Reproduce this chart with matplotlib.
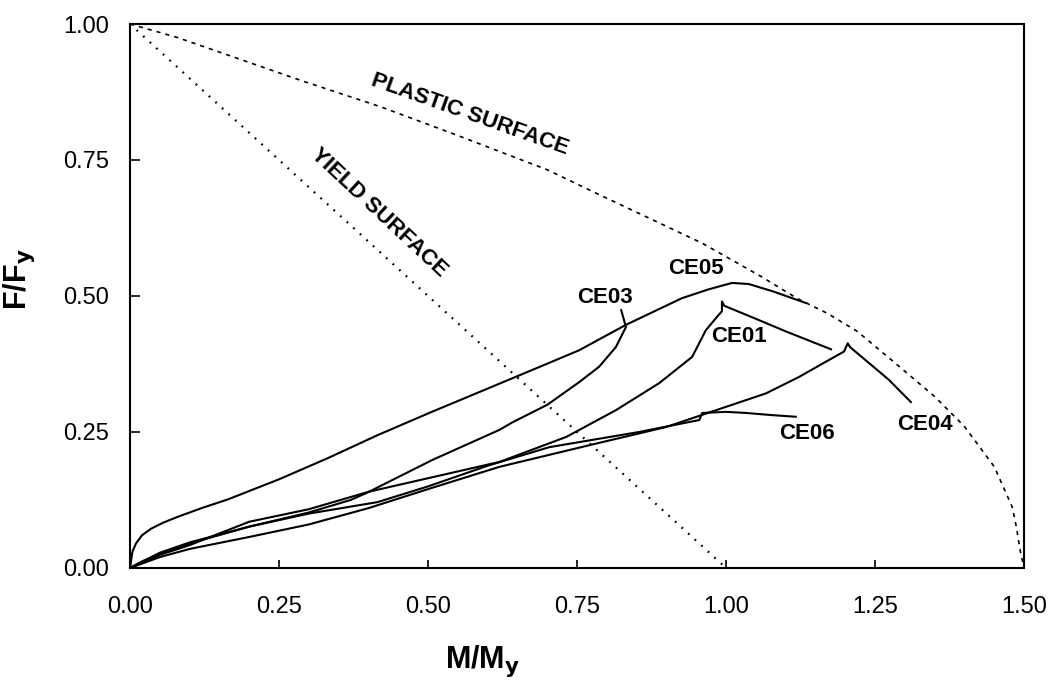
"""
Interaction diagram: F/Fy against M/My for the CE tests.
"""

import matplotlib
matplotlib.use("Agg")
from matplotlib import pyplot as plt

plt.rcParams["font.family"] = ["Liberation Sans", "DejaVu Sans"]

# yield and plastic surfaces
yield_m = [0.0, 1.0]
yield_f = [1.0, 0.0]

plastic_m = [0.0, 0.08, 0.29, 0.42, 0.55, 0.70, 0.78, 0.96, 1.06, 1.12, 1.17,
             1.22, 1.28, 1.35, 1.40, 1.45, 1.48, 1.487, 1.494, 1.50]
plastic_f = [1.0, 0.975, 0.895, 0.848, 0.795, 0.732, 0.69, 0.597, 0.535, 0.495, 0.468,
             0.435, 0.380, 0.315, 0.26, 0.186, 0.112, 0.075, 0.028, 0.0]

# test curves
ce05_m = [0.0, 0.004, 0.01, 0.02, 0.035, 0.055, 0.08, 0.12, 0.164, 0.25, 0.332,
          0.415, 0.502, 0.642, 0.703, 0.753, 0.832, 0.926, 0.97, 1.01, 1.038,
          1.08, 1.134]
ce05_f = [0.0, 0.03, 0.045, 0.06, 0.072, 0.083, 0.094, 0.11, 0.126, 0.163, 0.202,
          0.244, 0.285, 0.349, 0.377, 0.40, 0.447, 0.496, 0.512, 0.524, 0.522,
          0.508, 0.487]

ce03_m = [0.0, 0.02, 0.05, 0.1, 0.2, 0.3, 0.37, 0.397, 0.508, 0.62, 0.642,
          0.70, 0.754, 0.787, 0.815, 0.832, 0.824]
ce03_f = [0.0, 0.012, 0.026, 0.045, 0.076, 0.102, 0.125, 0.138, 0.199, 0.254, 0.268,
          0.30, 0.342, 0.37, 0.406, 0.443, 0.474]

ce01_m = [0.0, 0.05, 0.1, 0.2, 0.3, 0.4, 0.5, 0.62, 0.732, 0.815, 0.888,
          0.943, 0.966, 0.985, 0.993, 0.993, 0.997, 1.05, 1.10, 1.176]
ce01_f = [0.0, 0.024, 0.042, 0.085, 0.108, 0.14, 0.165, 0.195, 0.241, 0.29, 0.34,
          0.388, 0.437, 0.462, 0.472, 0.49, 0.482, 0.458, 0.435, 0.402]

ce04_m = [0.0, 0.05, 0.1, 0.2, 0.3, 0.4, 0.5, 0.62, 0.787, 0.899, 0.983,
          1.067, 1.122, 1.172, 1.198, 1.204, 1.208, 1.234, 1.273, 1.31]
ce04_f = [0.0, 0.02, 0.035, 0.057, 0.08, 0.11, 0.145, 0.186, 0.23, 0.259, 0.29,
          0.321, 0.351, 0.382, 0.398, 0.413, 0.406, 0.382, 0.346, 0.305]

ce06_m = [0.0, 0.05, 0.1, 0.2, 0.3, 0.415, 0.5, 0.6, 0.703, 0.854, 0.955,
          0.96, 1.0, 1.033, 1.077, 1.117]
ce06_f = [0.0, 0.028, 0.047, 0.076, 0.1, 0.121, 0.15, 0.188, 0.222, 0.25, 0.272,
          0.285, 0.287, 0.285, 0.281, 0.278]

curves = [(ce05_m, ce05_f), (ce03_m, ce03_f), (ce01_m, ce01_f),
          (ce04_m, ce04_f), (ce06_m, ce06_f)]

names = ["CE03", "CE05", "CE01", "CE06", "CE04"]
name_m = [0.796, 0.950, 1.022, 1.135, 1.333]
name_f = [0.498, 0.551, 0.425, 0.248, 0.263]

ticks = [0.0, 0.25, 0.50, 0.75, 1.00, 1.25, 1.50]


def main():
    fig = plt.figure(figsize=(10.58, 6.82), dpi=100)
    ax = fig.add_axes([0.1229, 0.1672, 0.8451, 0.7976])

    ax.plot(yield_m, yield_f, color="black", lw=1.6, linestyle=(0, (0.8, 3.2)))
    ax.plot(plastic_m, plastic_f, color="black", lw=1.2, linestyle=(0, (2.5, 3)))

    for m, f in curves:
        ax.plot(m, f, color="black", lw=1.5)

    for name, m, f in zip(names, name_m, name_f):
        ax.text(m, f, name, fontsize=16, fontweight="bold", ha="center", va="center")

    ax.text(0.57, 0.833, "PLASTIC SURFACE", fontsize=16, fontweight="bold",
            rotation=-19.5, ha="center", va="center", rotation_mode="anchor")
    ax.text(0.417, 0.653, "YIELD SURFACE", fontsize=16, fontweight="bold",
            rotation=-43, ha="center", va="center", rotation_mode="anchor")

    ax.set_xlim(0, 1.5)
    ax.set_ylim(0, 1.0)
    ax.set_xticks(ticks)
    ax.set_yticks(ticks[:5])
    ax.set_xticklabels([f"{t:.2f}" for t in ticks])
    ax.set_yticklabels([f"{t:.2f}" for t in ticks[:5]])
    ax.tick_params(axis="x", direction="in", length=6, width=1.2, pad=20, labelsize=17)
    ax.tick_params(axis="y", direction="in", length=7, width=1.2, pad=15, labelsize=17)
    for spine in ax.spines.values():
        spine.set_linewidth(1.5)

    ax.set_xlabel("M/M$_\\mathbf{y}$", fontsize=22, fontweight="bold")
    ax.set_ylabel("F/F$_\\mathbf{y}$", fontsize=22, fontweight="bold")
    ax.xaxis.set_label_coords(0.394, -0.138)
    ax.yaxis.set_label_coords(-0.104, 0.53)

    fig.savefig("out.png", dpi=100)


if __name__ == "__main__":
    main()
